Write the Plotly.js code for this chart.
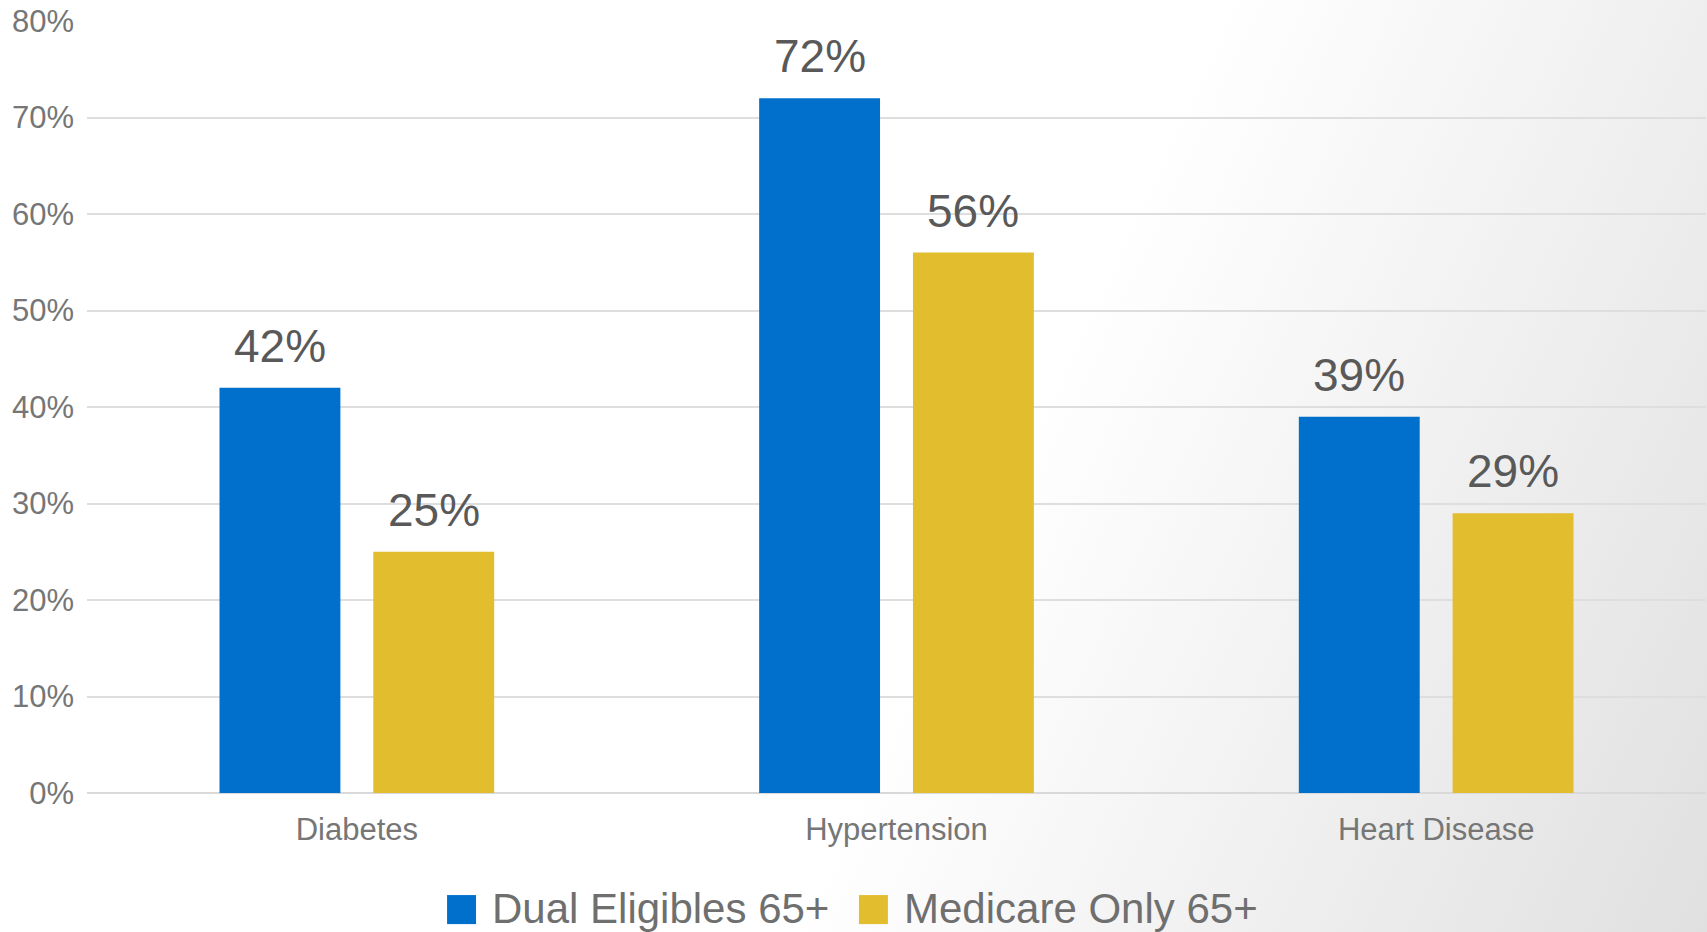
<!DOCTYPE html>
<html>
<head>
<meta charset="utf-8">
<script src="https://cdn.plot.ly/plotly-3.0.1.min.js"></script>
<style>
  html, body { margin: 0; padding: 0; }
  body {
    width: 1707px; height: 932px; overflow: hidden;
    background: linear-gradient(115deg, #ffffff 0%, #ffffff 57%, #e0e0e0 100%);
  }
  #chart { width: 1707px; height: 932px; }
</style>
</head>
<body>
<div id="chart"></div>
<script>
const categories = ["Diabetes", "Hypertension", "Heart Disease"];
const seriesNames = ["Dual Eligibles 65+", "Medicare Only 65+"];
const dualEligibles = [42, 72, 39];
const medicareOnly = [25, 56, 29];
const yTickValues = [0, 10, 20, 30, 40, 50, 60, 70, 80];

const colors = ["#0070CC", "#E2BE2E"];
const FONT = "Liberation Sans, Arial, sans-serif";
const bargap = 0.43;
const bargroupgap = 0.214;

const seriesValues = [dualEligibles, medicareOnly];

const traces = seriesValues.map((vals, i) => ({
  type: "bar",
  name: seriesNames[i],
  x: categories,
  y: vals,
  marker: { color: colors[i] },
  showlegend: false,
  hoverinfo: "x+y+name"
}));

// value labels above bars, positioned via category index + half-slot offset
const slot = (1 - bargap) / 2;
const annotations = [];
seriesValues.forEach((vals, si) => {
  const off = (si - 0.5) * slot;
  vals.forEach((v, ci) => {
    annotations.push({
      x: ci + off, y: v, xref: "x", yref: "y",
      text: v + "%", showarrow: false,
      xanchor: "center", yanchor: "bottom", yshift: 14,
      font: { family: FONT, size: 46, color: "#595959" }
    });
  });
});

// custom legend (large square swatches like the reference)
const legendSwatchX = [0.2224, 0.4768];
const legendTextX = [0.2495, 0.5040];
const legendY = -0.1490;
const swatchW = 0.0179, swatchH = 0.0376;
const shapes = [];
seriesNames.forEach((n, i) => {
  shapes.push({
    type: "rect", xref: "paper", yref: "paper",
    x0: legendSwatchX[i], x1: legendSwatchX[i] + swatchW,
    y0: legendY - swatchH / 2 - 0.002, y1: legendY + swatchH / 2 - 0.002,
    fillcolor: colors[i], line: { width: 0 }
  });
  annotations.push({
    x: legendTextX[i], y: legendY, xref: "paper", yref: "paper",
    xanchor: "left", yanchor: "middle", showarrow: false,
    text: n, borderpad: 0,
    font: { family: FONT, size: 42, color: "#6f6f6f" }
  });
});

const layout = {
  width: 1707, height: 932,
  margin: { l: 87, r: 1, t: 21, b: 139 },
  paper_bgcolor: "rgba(0,0,0,0)",
  plot_bgcolor: "rgba(0,0,0,0)",
  barmode: "group",
  bargap: bargap,
  bargroupgap: bargroupgap,
  showlegend: false,
  font: { family: FONT, color: "#767676" },
  xaxis: {
    type: "category",
    tickfont: { family: FONT, size: 31, color: "#767676" },
    showgrid: false, zeroline: false, showline: false,
    ticks: "", ticklabelstandoff: 15, fixedrange: true
  },
  yaxis: {
    range: [0, 80],
    tickvals: yTickValues,
    ticktext: yTickValues.map(v => v + "%"),
    tickfont: { family: FONT, size: 31, color: "#767676" },
    showgrid: true, gridcolor: "#dedede", gridwidth: 2,
    zeroline: true, zerolinecolor: "#d9d9d9", zerolinewidth: 2,
    showline: false, ticks: "", ticklabelstandoff: 12, fixedrange: true
  },
  shapes: shapes,
  annotations: annotations
};

Plotly.newPlot("chart", traces, layout, { displayModeBar: false, staticPlot: true });
</script>
</body>
</html>
